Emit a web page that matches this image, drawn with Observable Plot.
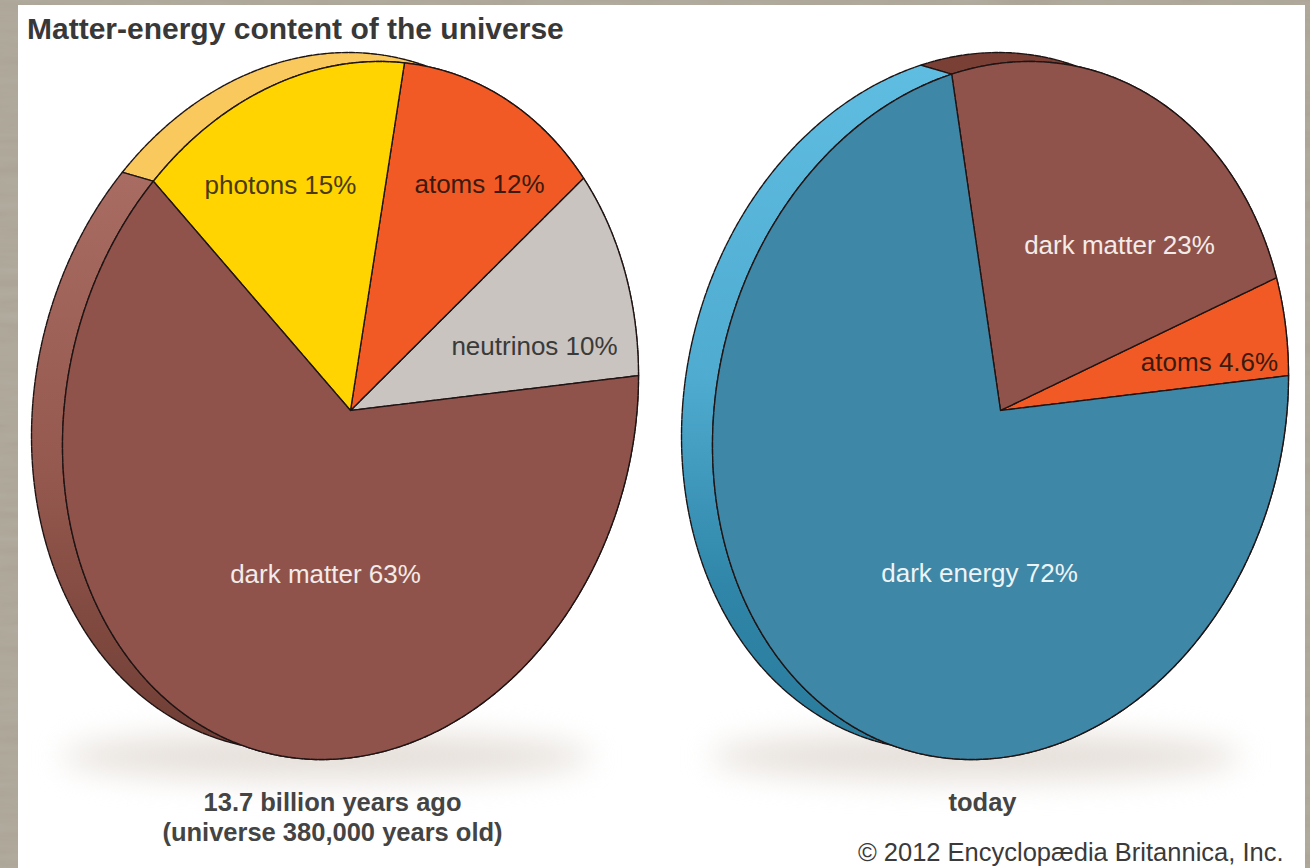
<!DOCTYPE html>
<html>
<head>
<meta charset="utf-8">
<title>Matter-energy content of the universe</title>
<script src="https://cdn.jsdelivr.net/npm/d3@7"></script>
<script src="https://cdn.jsdelivr.net/npm/@observablehq/plot@0.6"></script>
<style>
  html, body { margin: 0; padding: 0; width: 1310px; height: 868px; overflow: hidden; }
  body {
    background-color: #aca597;
    background-image: url("data:image/svg+xml,%3Csvg xmlns='http://www.w3.org/2000/svg' width='1310' height='868'%3E%3Cfilter id='n'%3E%3CfeTurbulence type='fractalNoise' baseFrequency='0.012 0.09' numOctaves='4' seed='7'/%3E%3CfeColorMatrix values='0 0 0 0 0.45 0 0 0 0 0.42 0 0 0 0 0.36 0.9 0.9 0 0 -0.55'/%3E%3C/filter%3E%3Crect width='1310' height='868' filter='url(%23n)'/%3E%3C/svg%3E");
    font-family: "Liberation Sans", Arial, sans-serif;
  }
  #panel { position: absolute; left: 18px; top: 5px; width: 1287px; height: 863px; background: #fff; }
  h1 {
    position: absolute; left: 27px; top: 13px; margin: 0;
    font-size: 30px; line-height: 32px; font-weight: 700; color: #383838; white-space: nowrap;
  }
  #chart { position: absolute; left: 0; top: 45px; }
  #chart svg { display: block; background: transparent; }
</style>
</head>
<body>
<div id="panel"></div>
<h1>Matter-energy content of the universe</h1>
<div id="chart"></div>
<script>
// Shares of the universe's content, listed counter-clockwise from the pie's right edge.
const earlyNames = ["neutrinos", "atoms", "photons", "dark matter"];
const earlyShares = [10, 12, 15, 63];
const todayNames = ["atoms", "dark matter", "dark energy"];
const todayShares = [4.6, 23, 72];

const earlyCaption = ["13.7 billion years ago", "(universe 380,000 years old)"];
const todayCaption = ["today"];
const credit = "© 2012 Encyclopædia Britannica, Inc.";

// Colour of each kind of content, on the face and for its label.
const faceColor = {
  "neutrinos": "#c9c4c0", "atoms": "#f15a24", "photons": "#ffd400",
  "dark matter": "#90534b", "dark energy": "#3f87a6"
};
const inkColor = {
  "neutrinos": "#3a3a38", "atoms": "#3b1a10", "photons": "#4a3a10",
  "dark matter": "#f3ebe8", "dark energy": "#eef4f6"
};

// Layout of the tilted discs, in page units.
const W = 288, H = 349, TILT = Math.asin(0.1);
const DEPTH_X = -31, DEPTH_Y = -9;
const TOP = 45, PAGE_W = 1310, PAGE_H = 868;
const earlyCenter = [350, 410], todayCenter = [1000, 410];

const rad = (turns) => turns * 2 * Math.PI;

// A point of the disc rim at a fraction of a full turn, optionally pushed back to the rear face.
const rimPoint = ([cx, cy], turn, back = false) => ({
  x: cx + W * Math.cos(rad(turn)) + (back ? DEPTH_X : 0),
  y: cy - H * Math.sin(rad(turn) + TILT) + (back ? DEPTH_Y : 0)
});

const arc = (center, from, to, back = false) => {
  const steps = Math.max(2, Math.ceil(Math.abs(to - from) * 360));
  return d3.range(steps + 1).map((i) => rimPoint(center, from + (to - from) * i / steps, back));
};

// Cumulative turn fractions per slice, normalised on the listed total.
function wedges(names, shares) {
  const total = d3.sum(shares);
  let start = 0;
  return names.map((name, i) => {
    const from = start;
    start += shares[i] / total;
    return { name, share: shares[i], from, to: start };
  });
}

const close = (points) => [...points, points[0]];
const edge = { stroke: "#1f1414", strokeWidth: 1.4, strokeDasharray: "6 1.2", curve: "linear" };

function faceMarks(center, slices) {
  const hub = { x: center[0], y: center[1] };
  return slices.map((s) =>
    Plot.line(close([hub, ...arc(center, s.from, s.to)]), {
      x: "x", y: "y", fill: faceColor[s.name], ...edge
    })
  );
}

// The side wall shows only the last two slices; the second to last reaches back to the start.
function wallMarks(center, slices, fills) {
  const split = slices[slices.length - 1].from;
  const parts = [[0, split, fills[0]], [split, 1, fills[1]]];
  return parts.map(([from, to, fill]) =>
    Plot.line(close([...arc(center, from, to, true), ...arc(center, to, from)]), {
      x: "x", y: "y", fill, ...edge
    })
  );
}

function shadowMark(cx, cy, rx, ry) {
  const ring = d3.range(73).map((i) => ({
    x: cx + rx * Math.cos(rad(i / 72)),
    y: cy + ry * Math.sin(rad(i / 72))
  }));
  return Plot.line(ring, {
    x: "x", y: "y", fill: "#e6e0da", stroke: "none", curve: "linear", imageFilter: "blur(15px)"
  });
}

// Gradient defs for the shaded side walls.
const defs = () => {
  const svg = d3.create("svg:g");
  const d = svg.append("defs");
  const grad = (id, stops) => {
    const g = d.append("linearGradient").attr("id", id)
      .attr("x1", 0).attr("x2", 0).attr("y1", 0).attr("y2", 1);
    stops.forEach(([o, c]) => g.append("stop").attr("offset", o).attr("stop-color", c));
  };
  grad("wall-brown", [[0, "#a86c62"], [0.5, "#96594f"], [1, "#6d3c33"]]);
  grad("wall-blue", [[0, "#60bde2"], [0.45, "#4fabd0"], [0.75, "#2f86a8"], [1, "#2a7a9a"]]);
  return svg.node();
};

const early = wedges(earlyNames, earlyShares);
const today = wedges(todayNames, todayShares);

// Where each slice label sits on the page.
const earlyLabels = [
  { slice: 0, x: 534, y: 346 }, { slice: 1, x: 479, y: 184 },
  { slice: 2, x: 280, y: 185 }, { slice: 3, x: 325, y: 574 }
];
const todayLabels = [
  { slice: 0, x: 1209, y: 362 }, { slice: 1, x: 1119, y: 245 }, { slice: 2, x: 979, y: 573 }
];
const labelRows = [
  ...earlyLabels.map((l) => ({ ...l, s: early[l.slice] })),
  ...todayLabels.map((l) => ({ ...l, s: today[l.slice] }))
].map((l) => ({ x: l.x, y: l.y, text: `${l.s.name} ${l.s.share}%`, color: inkColor[l.s.name] }));

const captionRows = [
  ...earlyCaption.map((text, i) => ({ x: 332, y: 802 + i * 30, text })),
  ...todayCaption.map((text) => ({ x: 982, y: 802, text }))
];

const chart = Plot.plot({
  width: PAGE_W,
  height: PAGE_H - TOP,
  margin: 0,
  x: { domain: [0, PAGE_W], range: [0, PAGE_W], axis: null },
  y: { domain: [TOP, PAGE_H], range: [0, PAGE_H - TOP], axis: null },
  style: { background: "transparent", fontFamily: '"Liberation Sans", Arial, sans-serif' },
  marks: [
    defs,
    shadowMark(326, 756, 265, 24),
    shadowMark(975, 756, 265, 24),
    ...wallMarks(earlyCenter, early, ["#f9c95e", "url(#wall-brown)"]),
    ...wallMarks(todayCenter, today, ["#7a4036", "url(#wall-blue)"]),
    ...faceMarks(earlyCenter, early),
    ...faceMarks(todayCenter, today),
    ...labelRows.map((l) =>
      Plot.text([l], { x: "x", y: "y", text: "text", fill: l.color, fontSize: 26, textAnchor: "middle" })
    ),
    Plot.text(captionRows, {
      x: "x", y: "y", text: "text", fill: "#444", fontSize: 25.5, fontWeight: 700, textAnchor: "middle"
    }),
    Plot.text([{ x: 1283, y: 852, text: credit }], {
      x: "x", y: "y", text: "text", fill: "#3a3a3a", fontSize: 25.5, textAnchor: "end"
    })
  ]
});
document.getElementById("chart").appendChild(chart);
</script>
</body>
</html>
